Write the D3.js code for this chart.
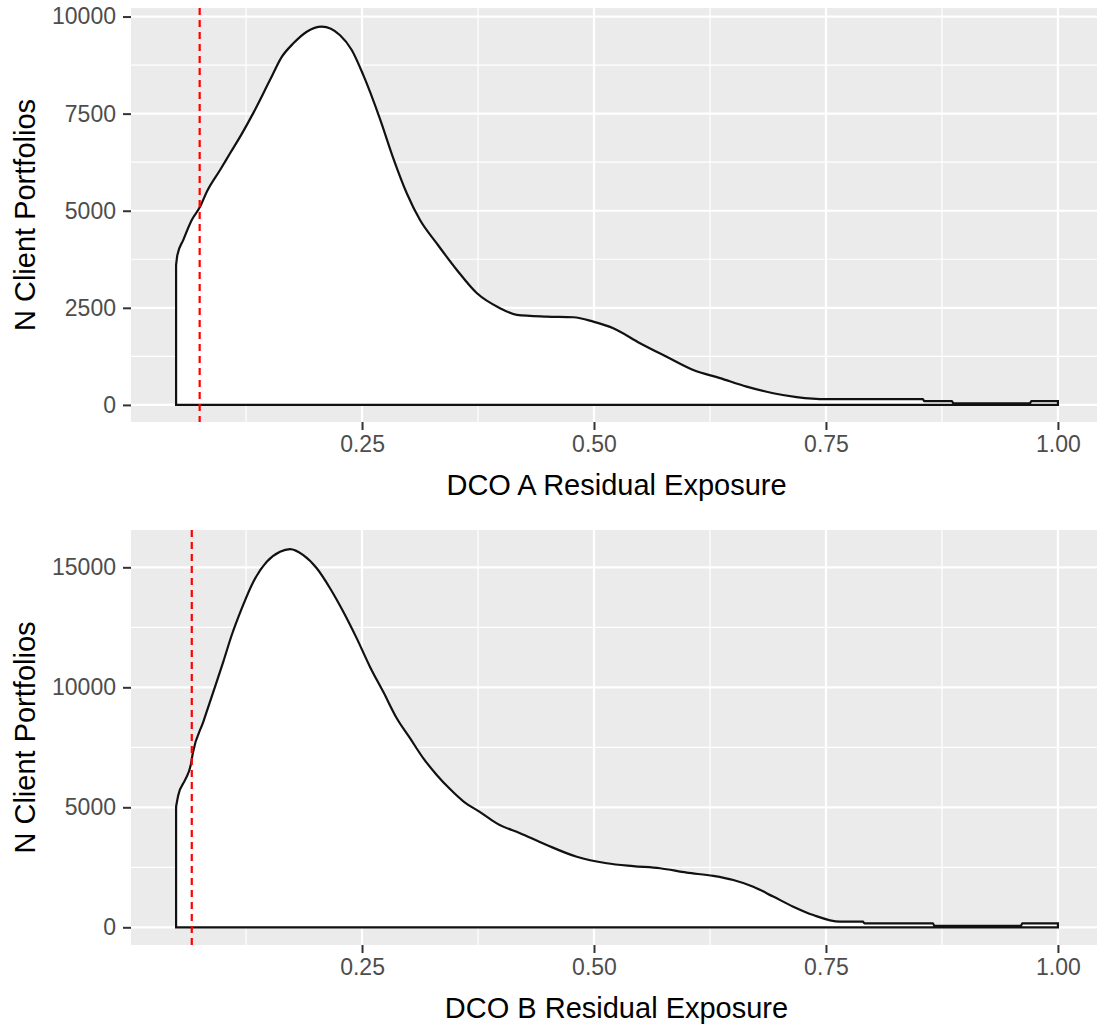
<!DOCTYPE html>
<html>
<head>
<meta charset="utf-8">
<script src="https://cdn.jsdelivr.net/npm/d3@7"></script>
<style>
  body { margin: 0; background: #fff; }
  text { font-family: "Liberation Sans", Arial, sans-serif; }
</style>
</head>
<body>
<svg id="chart" width="1097" height="1026"></svg>
<script>
// values
let exposureA = [0.0496, 0.051, 0.0574, 0.0665, 0.0754, 0.0827, 0.097, 0.1078, 0.1204, 0.1329,
  0.1509, 0.1635, 0.176, 0.1904, 0.2066, 0.2263, 0.2389, 0.2514, 0.2694, 0.2837,
  0.2982, 0.3125, 0.3305, 0.352, 0.3736, 0.3987, 0.4167, 0.449, 0.4777, 0.4992,
  0.5208, 0.5496, 0.5783, 0.607, 0.6358, 0.6645, 0.6932, 0.7184, 0.7508, 0.8082,
  0.8545, 0.856, 0.8858, 0.8873, 0.9698, 0.9713, 1.0];
let countA = [3600, 3860, 4250, 4760, 5100, 5490, 6050, 6480, 6980, 7520,
  8370, 8960, 9310, 9610, 9740, 9520, 9140, 8490, 7360, 6350,
  5450, 4760, 4160, 3480, 2880, 2490, 2320, 2275, 2257, 2144,
  1974, 1590, 1240, 900, 690, 470, 300, 200, 147, 147,
  147, 95, 95, 40, 40, 95, 95];

let exposureB = [0.0496, 0.052, 0.0593, 0.0654, 0.0676, 0.079, 0.0898, 0.1005, 0.1096, 0.1204,
  0.1329, 0.1473, 0.1616, 0.1724, 0.1867, 0.2012, 0.2155, 0.2298, 0.2443, 0.2586,
  0.273, 0.2874, 0.3017, 0.3161, 0.3305, 0.3448, 0.3592, 0.3772, 0.3952, 0.4203,
  0.449, 0.4814, 0.5137, 0.5423, 0.5711, 0.5999, 0.6286, 0.6501, 0.6717, 0.6932,
  0.7148, 0.7363, 0.7651, 0.7899, 0.7914, 0.8653, 0.8668, 0.9601, 0.9616, 1.0];
let countB = [5025, 5510, 6140, 6760, 7250, 8570, 9820, 11070, 12180, 13290,
  14400, 15230, 15650, 15760, 15510, 14960, 14130, 13150, 12040, 10850,
  9800, 8710, 7880, 7040, 6350, 5760, 5250, 4800, 4330, 3920,
  3430, 2940, 2670, 2550, 2460, 2280, 2140, 1970, 1690, 1280,
  860, 510, 233, 233, 167, 167, 60, 60, 167, 167];

let cutoffA = 0.075,
  cutoffB = 0.0665;

let xTicks = [0.25, 0.5, 0.75, 1.0],
  xMinor = [0.125, 0.375, 0.625, 0.875];
let yTicksA = [0, 2500, 5000, 7500, 10000],
  yMinorA = [1250, 3750, 6250, 8750];
let yTicksB = [0, 5000, 10000, 15000],
  yMinorB = [2500, 7500, 12500];

let svg = d3.select("#chart");

let panelLeft = 131,
  panelRight = 1102;

function drawPanel(opts) {
  let x = d3.scaleLinear().domain([0.001, 1.0475]).range([panelLeft, panelRight]);
  let y = d3.scaleLinear().domain(opts.yDomain).range([opts.bottom, opts.top]);

  let g = svg.append("g");

  g.append("rect")
    .attr("x", panelLeft)
    .attr("y", opts.top)
    .attr("width", panelRight - panelLeft)
    .attr("height", opts.bottom - opts.top)
    .attr("fill", "#EBEBEB");

  // minor grid
  g.selectAll("line.xminor")
    .data(xMinor)
    .enter()
    .append("line")
    .attr("x1", (d) => x(d))
    .attr("x2", (d) => x(d))
    .attr("y1", opts.top)
    .attr("y2", opts.bottom)
    .attr("stroke", "#fff")
    .attr("stroke-width", 1.2);
  g.selectAll("line.yminor")
    .data(opts.yMinor)
    .enter()
    .append("line")
    .attr("x1", panelLeft)
    .attr("x2", panelRight)
    .attr("y1", (d) => y(d))
    .attr("y2", (d) => y(d))
    .attr("stroke", "#fff")
    .attr("stroke-width", 1.2);

  // major grid
  g.selectAll("line.xmajor")
    .data(xTicks)
    .enter()
    .append("line")
    .attr("x1", (d) => x(d))
    .attr("x2", (d) => x(d))
    .attr("y1", opts.top)
    .attr("y2", opts.bottom)
    .attr("stroke", "#fff")
    .attr("stroke-width", 2.2);
  g.selectAll("line.ymajor")
    .data(opts.yTicks)
    .enter()
    .append("line")
    .attr("x1", panelLeft)
    .attr("x2", panelRight)
    .attr("y1", (d) => y(d))
    .attr("y2", (d) => y(d))
    .attr("stroke", "#fff")
    .attr("stroke-width", 2.2);

  let pts = opts.xs.map((d, i) => [d, opts.ys[i]]);
  let area = d3
    .area()
    .x((d) => x(d[0]))
    .y0(y(0))
    .y1((d) => y(d[1]))
    .curve(d3.curveMonotoneX);

  g.append("path")
    .datum(pts)
    .attr("d", area)
    .attr("fill", "#fff")
    .attr("stroke", "#111")
    .attr("stroke-width", 2.2)
    .attr("stroke-linejoin", "miter");

  g.append("line")
    .attr("x1", x(opts.cutoff))
    .attr("x2", x(opts.cutoff))
    .attr("y1", opts.top)
    .attr("y2", opts.bottom)
    .attr("stroke", "#FF0000")
    .attr("stroke-width", 2.2)
    .attr("stroke-dasharray", "7,5");

  // axes
  let xAxis = g
    .append("g")
    .attr("transform", `translate(0,${opts.bottom})`)
    .call(d3.axisBottom(x).tickValues(xTicks).tickFormat(d3.format(".2f")).tickSize(8).tickPadding(6));
  let yAxis = g
    .append("g")
    .attr("transform", `translate(${panelLeft},0)`)
    .call(d3.axisLeft(y).tickValues(opts.yTicks).tickFormat(d3.format("d")).tickSize(8).tickPadding(7));

  [xAxis, yAxis].forEach((a) => {
    a.select(".domain").remove();
    a.selectAll(".tick line").attr("stroke", "#333333").attr("stroke-width", 2);
    a.selectAll(".tick text")
      .attr("fill", "#4D4D4D")
      .style("font-size", "23px")
      .style("font-family", '"Liberation Sans", Arial, sans-serif');
  });

  g.append("text")
    .attr("x", (panelLeft + panelRight) / 2)
    .attr("y", opts.bottom + 73)
    .attr("text-anchor", "middle")
    .attr("fill", "#000")
    .style("font-size", "29px")
    .text(opts.xTitle);

  g.append("text")
    .attr("transform", `translate(35,${(opts.top + opts.bottom) / 2}) rotate(-90)`)
    .attr("text-anchor", "middle")
    .attr("fill", "#000")
    .style("font-size", "29px")
    .text("N Client Portfolios");
}

drawPanel({
  top: 8,
  bottom: 422,
  yDomain: [-440, 10220],
  yTicks: yTicksA,
  yMinor: yMinorA,
  xs: exposureA,
  ys: countA,
  cutoff: cutoffA,
  xTitle: "DCO A Residual Exposure"
});

drawPanel({
  top: 530,
  bottom: 945,
  yDomain: [-737, 16555],
  yTicks: yTicksB,
  yMinor: yMinorB,
  xs: exposureB,
  ys: countB,
  cutoff: cutoffB,
  xTitle: "DCO B Residual Exposure"
});
</script>
</body>
</html>
